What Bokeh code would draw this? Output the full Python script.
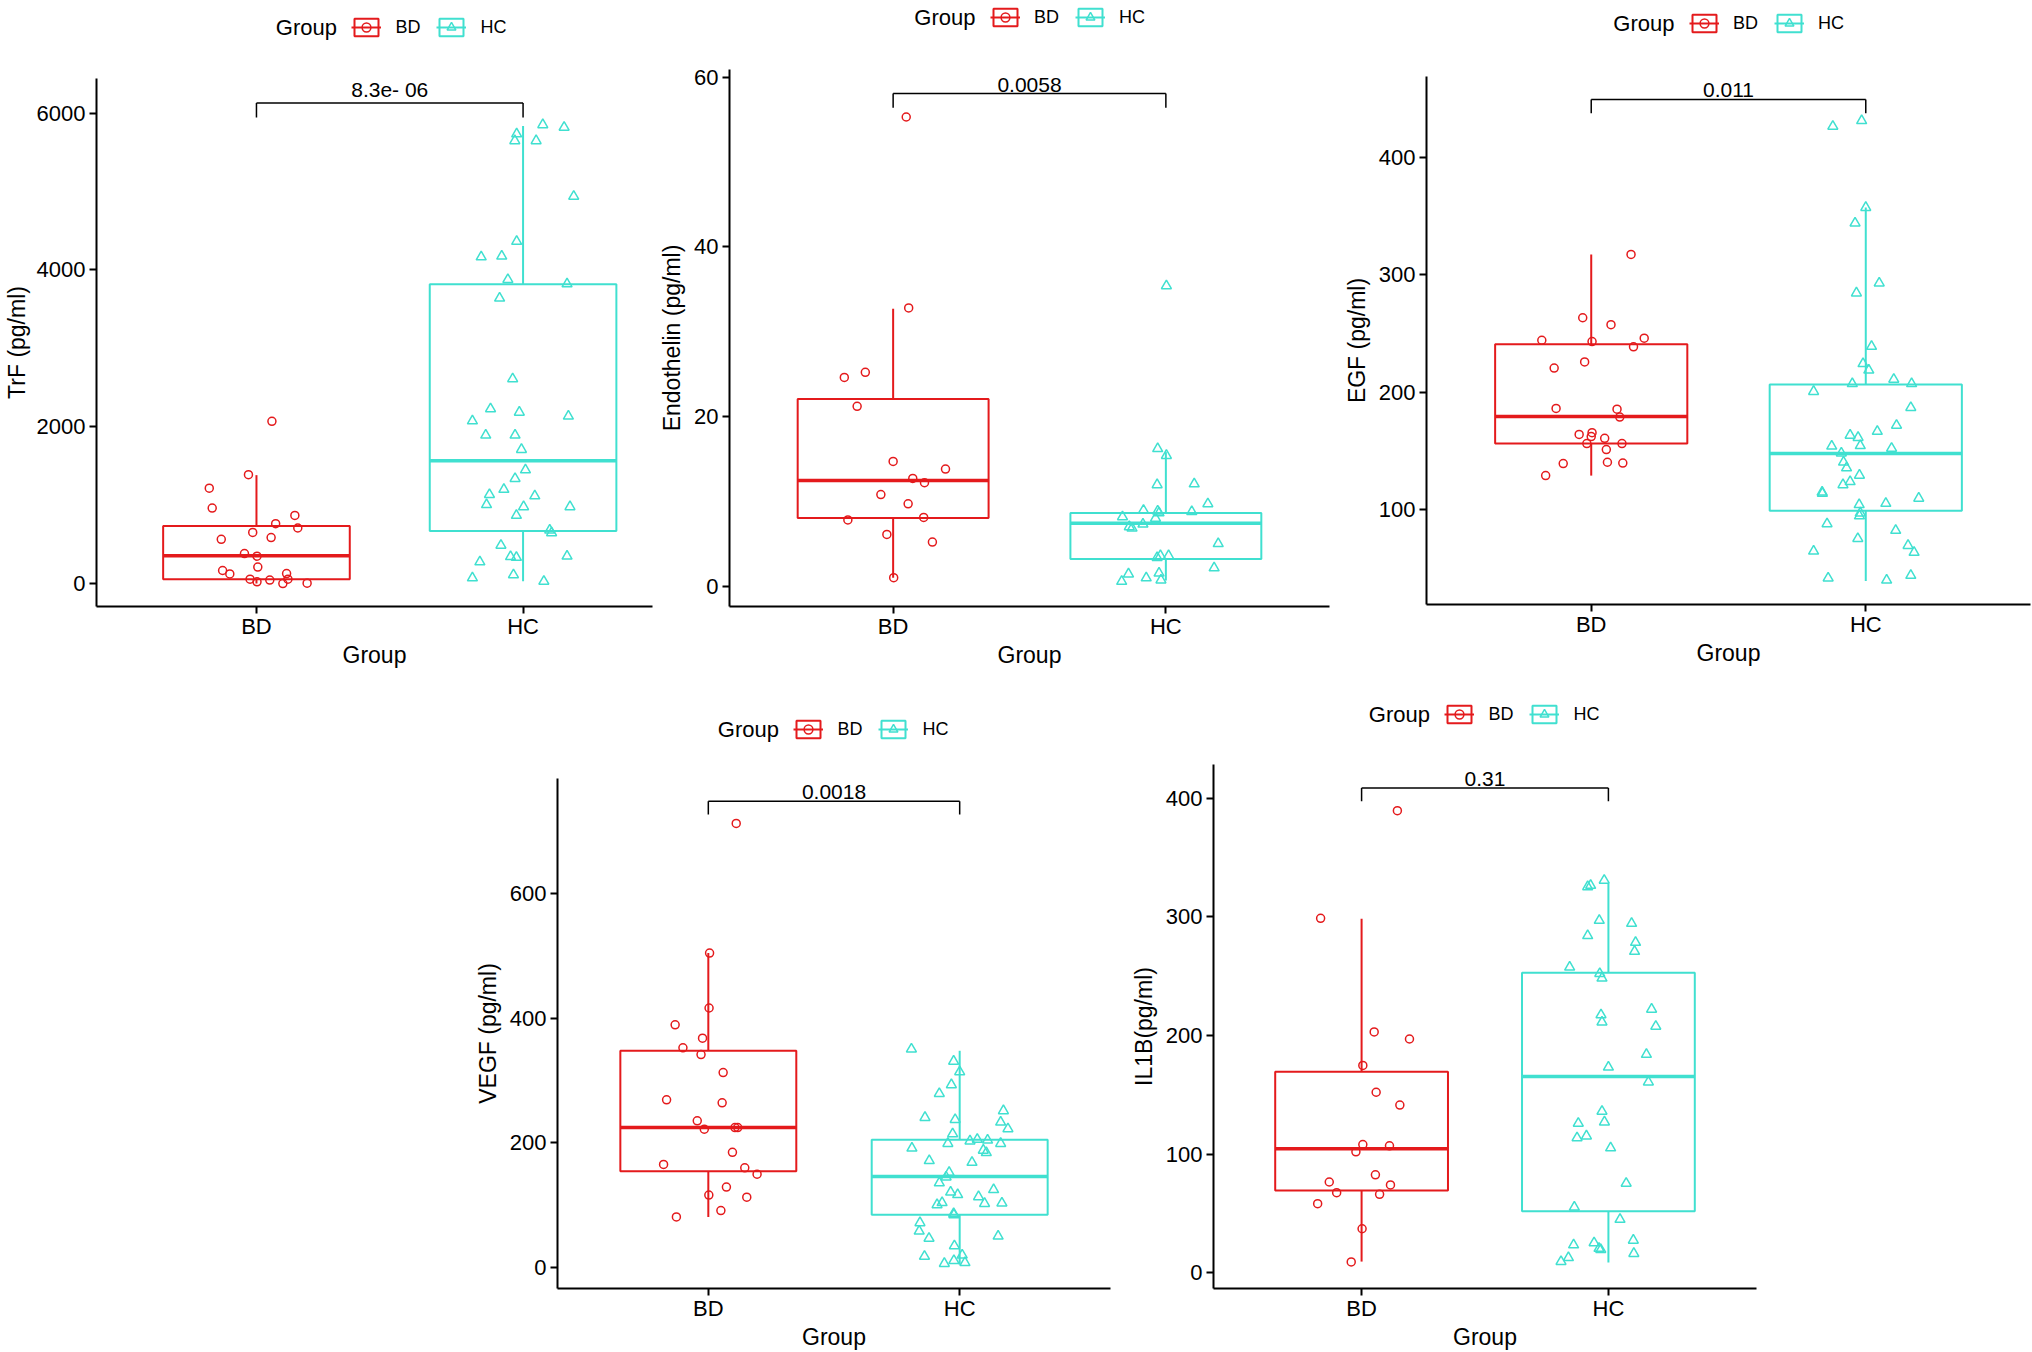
from bokeh.plotting import figure
from bokeh.models import ColumnDataSource, FixedTicker, Legend, LegendItem, Spacer, Range1d, Label
from bokeh.layouts import row, column
from bokeh.embed import file_html
from bokeh.resources import INLINE
from bokeh.core.properties import value

# ---------------- shared ----------------
groups = ["BD", "HC"]
group_x = [1, 2]
colors = ["#E41A1C", "#40E0D0"]
markers = ["circle", "triangle"]
x_title = "Group"
legend_title = "Group"

# ---------------- TrF ----------------
trf_bd = [2068, 1388, 1216, 962, 868, 763, 708, 652, 586, 564, 382, 348, 210, 166, 122, 127, 55, 22, 44, 0, 55, 5]
trf_bd_jit = [0.058, -0.03, -0.177, -0.166, 0.144, 0.072, 0.155, -0.014, 0.055, -0.132, -0.045, 0.002, 0.005,
              -0.127, -0.1, 0.113, -0.024, 0.002, 0.05, 0.099, 0.118, 0.19]
trf_hc = [5850, 5817, 5734, 5646, 5646, 4938, 4363, 4164, 4175, 3876, 3821, 3638, 2610, 2228, 2184, 2134, 2074,
          1891, 1891, 1709, 1449, 1338, 1200, 1134, 1117, 1006, 979, 979, 868, 680, 647, 487, 276, 343, 332, 348,
          72, 111, 28]
trf_hc_jit = [0.074, 0.154, -0.024, -0.031, 0.049, 0.19, -0.024, -0.157, -0.08, -0.057, 0.165, -0.088, -0.039,
              -0.122, -0.014, 0.17, -0.19, -0.14, -0.03, -0.006, 0.009, -0.03, -0.072, -0.126, 0.044, -0.137,
              0.002, 0.176, -0.025, 0.1, 0.107, -0.083, -0.162, -0.047, -0.025, 0.165, -0.19, -0.036, 0.078]
trf_q1 = [55, 669]
trf_med = [354, 1565]
trf_q3 = [735, 3815]
trf_lo = [0, 28]
trf_hi = [1382, 5834]
trf_bracket = [6127, 5944]
trf_p = "8.3e- 06"
trf_ticks = [0, 2000, 4000, 6000]

# ---------------- Endothelin ----------------
edn_bd = [55.3, 32.8, 24.6, 25.2, 21.2, 14.7, 13.8, 12.7, 12.2, 10.8, 9.7, 8.1, 7.8, 6.1, 5.2, 1.0]
edn_bd_jit = [0.048, 0.057, -0.179, -0.102, -0.132, 0.0, 0.192, 0.072, 0.115, -0.045, 0.055, 0.112, -0.166,
              -0.023, 0.144, 0.002]
edn_hc = [35.4, 16.2, 15.4, 11.95, 12.05, 9.7, 8.94, 8.84, 8.63, 8.78, 8.17, 8.0, 7.3, 7.0, 6.84, 5.0, 3.58,
          3.37, 3.58, 2.14, 1.43, 1.53, 0.97, 0.56, 0.72]
edn_hc_jit = [0.002, -0.03, 0.002, -0.032, 0.104, 0.154, -0.082, -0.03, -0.025, 0.095, -0.159, -0.038, -0.084,
              -0.134, -0.124, 0.192, 0.01, -0.032, -0.02, 0.177, -0.137, -0.025, -0.072, -0.162, -0.018]
edn_q1 = [8.02, 3.2]
edn_med = [12.46, 7.4]
edn_q3 = [22.06, 8.63]
edn_lo = [1.0, 0.66]
edn_hi = [32.7, 15.8]
edn_bracket = [58.07, 56.4]
edn_p = "0.0058"
edn_ticks = [0, 20, 40, 60]

# ---------------- EGF ----------------
egf_bd = [317.5, 263.5, 257.6, 246.1, 244.3, 243.2, 238.7, 225.8, 220.6, 186.2, 185.5, 178.8, 164.0, 165.5,
          162.2, 160.7, 156.2, 156.2, 151.1, 139.2, 140.3, 139.6, 128.9]
egf_bd_jit = [0.145, -0.031, 0.072, 0.193, -0.18, 0.003, 0.154, -0.024, -0.135, -0.128, 0.094, 0.104, -0.044,
              0.003, 0.0, 0.049, -0.016, 0.112, 0.055, -0.102, 0.059, 0.115, -0.166]
egf_hc = [431.5, 426.7, 357.5, 344.2, 293.1, 284.6, 239.1, 224.3, 218.8, 211.0, 207.3, 207.3, 200.6, 186.9,
          171.8, 166.6, 163.3, 161.4, 154.0, 154.4, 152.2, 148.1, 140.3, 135.5, 129.2, 123.7, 121.1, 114.8,
          113.7, 109.6, 105.2, 104.1, 94.5, 97.0, 87.8, 82.2, 75.2, 69.3, 64.5, 63.4, 43.8, 41.5, 39.7]
egf_hc_jit = [-0.015, -0.12, 0.0, -0.039, 0.049, -0.034, 0.021, -0.01, 0.011, 0.102, 0.167, -0.049, -0.19,
              0.164, 0.112, 0.042, -0.057, -0.028, -0.124, -0.02, 0.094, -0.089, -0.081, -0.07, -0.023, -0.057,
              -0.083, -0.159, -0.158, 0.193, 0.073, -0.024, -0.023, -0.02, -0.141, 0.109, -0.029, 0.154, -0.19,
              0.176, 0.164, -0.137, 0.076]
egf_q1 = [156.2, 98.9]
egf_med = [179.2, 147.7]
egf_q3 = [240.9, 206.5]
egf_lo = [128.9, 39.0]
egf_hi = [317.5, 357.5]
egf_bracket = [449.6, 437.8]
egf_p = "0.011"
egf_ticks = [100, 200, 300, 400]

# ---------------- VEGF ----------------
vegf_bd = [712.4, 504.5, 416.4, 389.5, 368.0, 352.5, 341.7, 312.8, 269.1, 264.4, 235.4, 222.0, 224.7, 224.7,
           185.0, 165.5, 160.1, 150.0, 129.2, 116.4, 113.0, 91.5, 81.4]
vegf_bd_jit = [0.111, 0.005, 0.003, -0.132, -0.023, -0.101, -0.029, 0.059, -0.166, 0.055, -0.044, -0.016,
               0.106, 0.117, 0.096, -0.178, 0.145, 0.194, 0.072, 0.002, 0.153, 0.05, -0.127]
vegf_hc = [350.5, 331.0, 314.1, 293.3, 279.2, 251.6, 240.8, 237.5, 233.4, 222.7, 214.6, 203.1, 205.8, 204.5,
           199.1, 199.1, 191.7, 188.3, 184.3, 171.5, 168.8, 152.7, 145.3, 135.9, 125.1, 121.1, 117.0, 113.7,
           104.3, 100.9, 102.9, 103.6, 86.8, 84.8, 72.0, 58.5, 47.1, 50.5, 35.0, 18.2, 20.2, 6.7, 11.4, 8.1]
vegf_hc_jit = [-0.192, -0.024, 0.0, -0.033, -0.081, 0.174, -0.138, -0.018, 0.163, 0.192, -0.028, 0.041, 0.07,
               0.111, -0.047, 0.163, -0.19, 0.094, 0.106, -0.121, 0.049, -0.042, -0.054, -0.081, 0.135, -0.036,
               -0.008, 0.075, -0.07, -0.09, 0.099, 0.168, -0.024, -0.023, -0.158, -0.161, -0.122, 0.153, -0.021,
               -0.14, 0.01, -0.061, -0.023, 0.021]
vegf_q1 = [154.7, 84.8]
vegf_med = [224.7, 146.0]
vegf_q3 = [347.8, 205.2]
vegf_lo = [81.4, 4.7]
vegf_hi = [504.5, 347.8]
vegf_bracket = [748, 726.5]
vegf_p = "0.0018"
vegf_ticks = [0, 200, 400, 600]

# ---------------- IL1B ----------------
il1b_bd = [389.6, 298.8, 203.0, 197.0, 174.7, 152.1, 141.3, 108.0, 106.9, 101.9, 82.5, 76.4, 73.9, 67.4, 66.0,
           58.1, 37.0, 9.0]
il1b_bd_jit = [0.145, -0.166, 0.051, 0.194, 0.005, 0.059, 0.155, 0.005, 0.113, -0.023, 0.056, -0.131, 0.117,
               -0.101, 0.073, -0.178, 0.002, -0.042]
il1b_hc = [330.8, 325.4, 326.5, 297.0, 294.5, 284.1, 278.4, 270.9, 257.6, 252.2, 248.3, 222.1, 217.4, 211.3,
           207.7, 184.0, 173.3, 160.7, 136.0, 127.0, 125.9, 113.7, 115.2, 105.1, 75.3, 55.2, 44.8, 23.3, 25.1,
           27.3, 20.4, 19.4, 12.6, 9.3, 16.1]
il1b_hc_jit = [-0.017, -0.084, -0.072, -0.037, 0.094, -0.084, 0.11, 0.106, -0.157, -0.035, -0.026, 0.175,
               -0.03, -0.026, 0.192, 0.154, 0.0, 0.162, -0.026, -0.016, -0.122, -0.127, -0.089, 0.009, 0.072,
               -0.138, 0.047, -0.141, -0.058, 0.101, -0.038, -0.031, -0.162, -0.192, 0.103]
il1b_q1 = [69.2, 51.7]
il1b_med = [104.4, 165.4]
il1b_q3 = [169.3, 252.9]
il1b_lo = [9.3, 8.6]
il1b_hi = [298.5, 327.9]
il1b_bracket = [408.6, 397.5]
il1b_p = "0.31"
il1b_ticks = [0, 100, 200, 300, 400]

# ---------------- styling ----------------
FONT = "Liberation Sans"
BOX_W = 0.7
GLYPH_W, GLYPH_H = 30, 22
TICK_FS, TITLE_FS, P_FS = 22, 23, 21
LEG_TITLE_FS, LEG_LABEL_FS = 22, 18


def legend_fig(w, h, frame_w, shift, q1, med, q3):
    # strip above a panel that holds the "Group" legend (its frame is aligned with the panel below);
    # its renderers carry one row of the panel's box statistics but are hidden, so only the keys show
    lf = figure(width=w, height=h, title=None, toolbar_location=None, output_backend="svg",
                x_axis_type=None, y_axis_type=None, x_range=Range1d(0, 1), y_range=Range1d(0, 1),
                min_border_left=0, min_border_right=0, min_border_top=0, min_border_bottom=0)
    lf.outline_line_color = None
    items = []
    for i, (g, c, m) in enumerate(zip(groups, colors, markers)):
        src = ColumnDataSource(dict(x=[group_x[i]], bottom=[q1[i]], top=[q3[i]], y=[med[i]],
                                    x0=[group_x[i] - BOX_W / 2], x1=[group_x[i] + BOX_W / 2]))
        rb = lf.vbar(x="x", top="top", bottom="bottom", width=BOX_W, source=src,
                     fill_color="white", line_color=c, line_width=2)
        rm = lf.segment(x0="x0", y0="y", x1="x1", y1="y", source=src, line_color=c, line_width=2)
        rp = lf.scatter(x="x", y="y", source=src, marker=m, size=8, fill_color=None,
                        line_color=c, line_width=1.5)
        for r in (rb, rm, rp):
            r.visible = False
        items.append(LegendItem(label=g, renderers=[rb, rm, rp]))
    title_w = LEG_TITLE_FS * 2.72
    lab_w = [LEG_LABEL_FS * 1.389, LEG_LABEL_FS * 1.444]
    items_w = 2 * (GLYPH_W + 14) + sum(lab_w) + 16
    total = title_w + 15 + items_w
    left = frame_w / 2 + shift - total / 2
    leg = Legend(items=items, location=(left + title_w + 15, (h - GLYPH_H) / 2), orientation="horizontal",
                 click_policy="none",
                 label_text_font=FONT, label_text_font_size=f"{LEG_LABEL_FS}px", label_text_color="black",
                 label_text_baseline="middle",
                 glyph_width=GLYPH_W, glyph_height=GLYPH_H, label_standoff=14, spacing=16,
                 label_height=GLYPH_H, label_width=10, padding=0, margin=0,
                 border_line_color=None, background_fill_alpha=0)
    lf.add_layout(leg, "center")
    lf.add_layout(Label(x=0, y=0.5, x_offset=left + title_w, text=legend_title, text_align="right",
                        text_baseline="middle", text_font=FONT, text_font_size=f"{LEG_TITLE_FS}px",
                        text_color="black"))
    return lf


def panel(bd_v, bd_j, hc_v, hc_j, q1, med, q3, lo, hi, bracket, ptxt, yticks, ylabel,
          xr, yr, w, h, mb, y_std):
    p = figure(width=w, height=h, x_range=Range1d(*xr), y_range=Range1d(*yr), title=None,
               toolbar_location=None, output_backend="svg",
               min_border_left=mb[0], min_border_right=mb[1], min_border_top=mb[2], min_border_bottom=mb[3])
    p.outline_line_color = None
    p.xgrid.visible = False
    p.ygrid.visible = False

    box = ColumnDataSource(dict(x=group_x, q1=q1, med=med, q3=q3, lo=lo, hi=hi, color=colors,
                                x0=[g - BOX_W / 2 for g in group_x], x1=[g + BOX_W / 2 for g in group_x]))
    p.segment(x0="x", y0="q3", x1="x", y1="hi", source=box, line_color="color", line_width=2)
    p.segment(x0="x", y0="q1", x1="x", y1="lo", source=box, line_color="color", line_width=2)
    p.vbar(x="x", bottom="q1", top="q3", width=BOX_W, source=box, fill_color="white",
           line_color="color", line_width=2)
    p.segment(x0="x0", y0="med", x1="x1", y1="med", source=box, line_color="color", line_width=3.5)

    for gx, vals, jit, c, m, sz in ((group_x[0], bd_v, bd_j, colors[0], markers[0], 8),
                                    (group_x[1], hc_v, hc_j, colors[1], markers[1], 10)):
        p.scatter(x=[gx + j for j in jit], y=vals, marker=m, size=sz, fill_color=None,
                  line_color=c, line_width=1.5)

    # significance bracket
    p.segment(x0=[group_x[0], group_x[0], group_x[1]], y0=[bracket[0]] * 3,
              x1=[group_x[1], group_x[0], group_x[1]], y1=[bracket[0], bracket[1], bracket[1]],
              line_color="black", line_width=1.5)
    p.text(x=[sum(group_x) / 2], y=[bracket[0]], text=[ptxt], text_align="center",
           text_baseline="bottom", y_offset=-2, text_font=value(FONT),
           text_font_size=f"{P_FS}px", text_color="black")

    xa = p.xaxis[0]
    ya = p.yaxis[0]
    xa.ticker = FixedTicker(ticks=group_x)
    xa.major_label_overrides = {gx: g for gx, g in zip(group_x, groups)}
    ya.ticker = FixedTicker(ticks=yticks)
    for ax in (xa, ya):
        ax.axis_line_color = "black"
        ax.axis_line_width = 2
        ax.major_tick_line_color = "black"
        ax.major_tick_line_width = 2
        ax.major_tick_out = 7
        ax.major_tick_in = 0
        ax.minor_tick_line_color = None
        ax.major_label_text_font = FONT
        ax.major_label_text_font_size = f"{TICK_FS}px"
        ax.major_label_text_color = "black"
        ax.axis_label_text_font = FONT
        ax.axis_label_text_font_size = f"{TITLE_FS}px"
        ax.axis_label_text_font_style = "normal"
        ax.axis_label_text_color = "black"
    xa.axis_label = x_title
    xa.major_label_standoff = 0
    xa.axis_label_standoff = 0
    ya.axis_label = ylabel
    ya.major_label_standoff = y_std[0]
    ya.axis_label_standoff = y_std[1]
    return p


# ---------------- top row ----------------
lf1 = legend_fig(656, 54, 561, 15, trf_q1, trf_med, trf_q3)
p1 = panel(trf_bd, trf_bd_jit, trf_hc, trf_hc_jit, trf_q1, trf_med, trf_q3, trf_lo, trf_hi, trf_bracket, trf_p,
           trf_ticks, "TrF (pg/ml)", (0.4, 2.4855), (-293, 6440), 656, 626, (91, 4, 24, 74), (4, 4))

lf2 = legend_fig(684, 34, 602, 0, edn_q1, edn_med, edn_q3)
p2 = panel(edn_bd, edn_bd_jit, edn_hc, edn_hc_jit, edn_q1, edn_med, edn_q3, edn_lo, edn_hi, edn_bracket, edn_p,
           edn_ticks, "Endothelin (pg/ml)", (0.4, 2.6), (-2.4, 60.9), 684, 646, (71, 11, 35, 74), (4, 6))

lf3 = legend_fig(692, 46, 606, 0, egf_q1, egf_med, egf_q3)
p3 = panel(egf_bd, egf_bd_jit, egf_hc, egf_hc_jit, egf_q1, egf_med, egf_q3, egf_lo, egf_hi, egf_bracket, egf_p,
           egf_ticks, "EGF (pg/ml)", (0.4, 2.6), (19, 469.2), 692, 634, (84, 2, 30, 76), (4, 6))

# ---------------- bottom row ----------------
lf4 = legend_fig(655, 98, 553, 0, vegf_q1, vegf_med, vegf_q3)
p4 = panel(vegf_bd, vegf_bd_jit, vegf_hc, vegf_hc_jit, vegf_q1, vegf_med, vegf_q3, vegf_lo, vegf_hi,
           vegf_bracket, vegf_p, vegf_ticks, "VEGF (pg/ml)", (0.4, 2.6), (-33.4, 784.4), 655, 574,
           (87, 15, 0, 60), (4, 6))

lf5 = legend_fig(675, 68, 543, 0, il1b_q1, il1b_med, il1b_q3)
p5 = panel(il1b_bd, il1b_bd_jit, il1b_hc, il1b_hc_jit, il1b_q1, il1b_med, il1b_q3, il1b_lo, il1b_hi,
           il1b_bracket, il1b_p, il1b_ticks, "IL1B(pg/ml)", (0.4, 2.6), (-13.4, 428.5), 675, 604,
           (88, 44, 16, 61), (4, 6))

top = row(column(lf1, p1), column(lf2, p2), column(lf3, p3))
bottom = row(Spacer(width=470, height=672), column(lf4, p4), column(lf5, p5))
layout = column(top, bottom)

open("out.html", "w").write(file_html(layout, INLINE))
